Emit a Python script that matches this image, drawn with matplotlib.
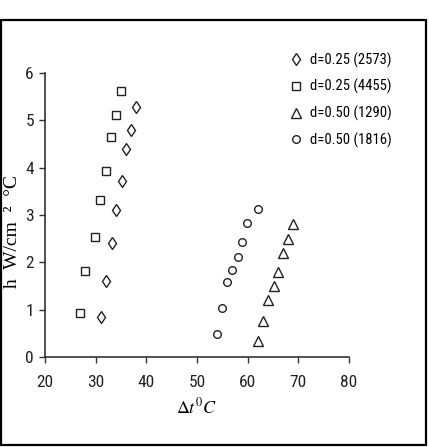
import matplotlib
matplotlib.use("Agg")
import matplotlib.pyplot as plt
from matplotlib import font_manager
from matplotlib.patches import Rectangle

# Data
d025_2573_x = [31.1, 32.1, 33.2, 34.1, 35.2, 36.0, 37.0, 37.9]
d025_2573_y = [0.85, 1.61, 2.40, 3.11, 3.71, 4.39, 4.80, 5.29]
d025_4455_x = [26.9, 27.9, 29.9, 30.9, 32.0, 33.0, 34.0, 35.0]
d025_4455_y = [0.92, 1.82, 2.53, 3.32, 3.92, 4.64, 5.12, 5.61]
d050_1290_x = [62.1, 63.1, 64.1, 65.2, 65.9, 66.9, 67.9, 69.0]
d050_1290_y = [0.34, 0.77, 1.20, 1.49, 1.79, 2.20, 2.49, 2.81]
d050_1816_x = [53.9, 54.9, 56.0, 56.9, 58.0, 58.9, 59.9, 62.0]
d050_1816_y = [0.48, 1.04, 1.58, 1.84, 2.12, 2.42, 2.84, 3.13]
labels = ["d=0.25 (2573)", "d=0.25 (4455)", "d=0.50 (1290)", "d=0.50 (1816)"]
x_ticks = [20, 30, 40, 50, 60, 70, 80]
y_ticks = [0, 1, 2, 3, 4, 5, 6]

names = sorted({f.name for f in font_manager.fontManager.ttflist})
prefs = ["Liberation Sans Narrow", "Roboto Condensed", "DejaVu Sans Condensed",
         "Noto Sans Condensed", "Open Sans Condensed"]
sans = next((p for p in prefs if p in names), None)
if sans is None:
    cands = [n for n in names if ("Narrow" in n or "Condensed" in n)
             and "Serif" not in n and "Mono" not in n]
    sans = cands[0] if cands else "Liberation Sans"

plt.rcParams["mathtext.fontset"] = "stix"
plt.rcParams["font.family"] = [sans, "DejaVu Sans"]
serif = "Liberation Serif"

fig = plt.figure(figsize=(4.29, 4.47), dpi=100)
ax = fig.add_axes([0.105, 0.2013, 0.7085, 0.6354])

mk = dict(linestyle="none", markerfacecolor="none", markeredgecolor="#222222", markeredgewidth=1.0)
ax.plot(d025_2573_x, d025_2573_y, marker="d", markersize=6.5, label=labels[0], **mk)
ax.plot(d025_4455_x, d025_4455_y, marker="s", markersize=5.5, label=labels[1], **mk)
ax.plot(d050_1290_x, d050_1290_y, marker="^", markersize=6.5, label=labels[2], **mk)
ax.plot(d050_1816_x, d050_1816_y, marker="o", markersize=5.5, label=labels[3], **mk)

ax.set_xlim(20, 80)
ax.set_ylim(0, 6)
ax.set_xticks(x_ticks)
ax.set_yticks(y_ticks)
for s in ["top", "right"]:
    ax.spines[s].set_visible(False)
for s in ["left", "bottom"]:
    ax.spines[s].set_linewidth(1.2)
    ax.spines[s].set_color("#333333")
ax.tick_params(direction="out", length=4, width=1, colors="#333333", labelcolor="#222222",
               labelsize=12.5)
ax.tick_params(axis="x", pad=9)
ax.tick_params(axis="y", pad=4)

ax.set_xlabel(r"$\Delta t^{0}C$", fontsize=13, labelpad=5)
fig.text(0.03, 0.483, "h  W/cm  \u00b2  \u00b0C", rotation=90, ha="center", va="center",
         fontsize=14, fontfamily=serif)

leg = ax.legend(loc="upper left", bbox_to_anchor=(0.642, 0.912), bbox_transform=fig.transFigure,
                frameon=False, handlelength=1.0, handletextpad=0.5, labelspacing=0.78,
                fontsize=10.5)

fig.patches.append(Rectangle((0.003, 0.005), 0.99, 0.95, transform=fig.transFigure,
                             fill=False, edgecolor="black", linewidth=1.6))

fig.savefig("out.png", dpi=100)
